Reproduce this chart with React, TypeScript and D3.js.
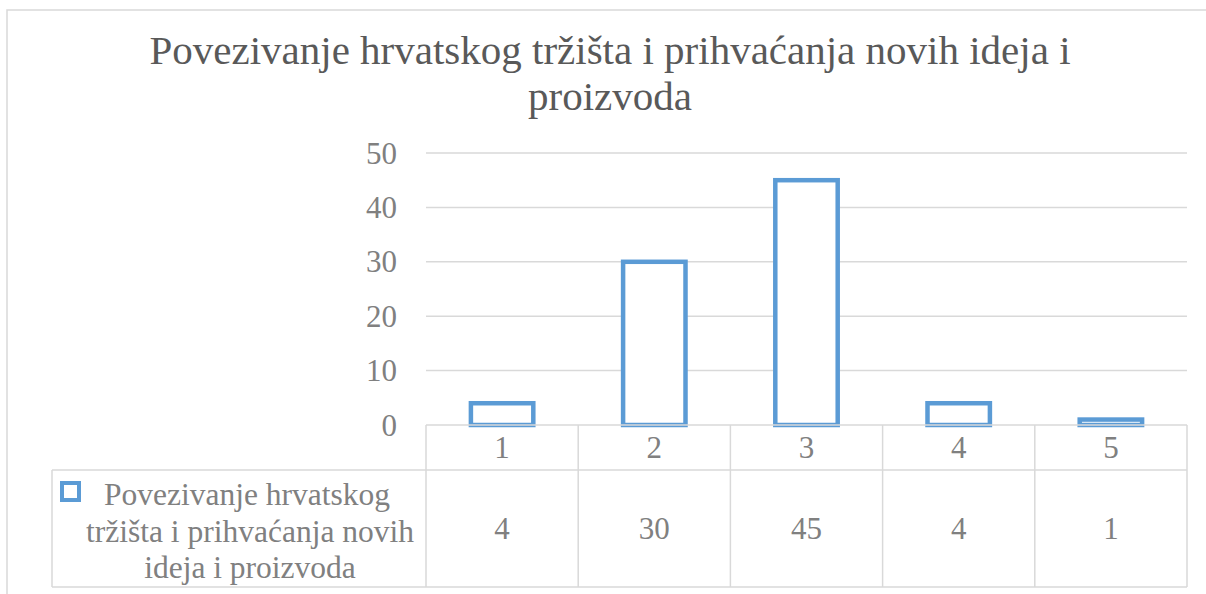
import React from "react";
import { scaleBand, scaleLinear } from "d3";

const categories = ["1", "2", "3", "4", "5"];
const values = [4, 30, 45, 4, 1];
const yTicks = [0, 10, 20, 30, 40, 50];
const titleLines = [
  "Povezivanje hrvatskog tržišta i prihvaćanja novih ideja i",
  "proizvoda",
];
const seriesLines = [
  "Povezivanje hrvatskog",
  "tržišta i prihvaćanja novih",
  "ideja i proizvoda",
];

const W = 1206;
const H = 594;
const FONT = "Liberation Serif";
const BLUE = "#5B9BD5";
const GRID = "#d9d9d9";
const TEXT = "#808080";

function App() {
  const left = 426;
  const right = 1187;
  const tableTop = 425;
  const rowSplit = 470;
  const tableBottom = 587;
  const tableLeft = 52;

  // columns of the data table, one per category
  const cols = scaleBand().domain(categories).range([left, right]);
  // bars inside each column (Excel gap width ~ 130%)
  const bars = scaleBand()
    .domain(categories)
    .range([left, right])
    .paddingInner(0.59)
    .paddingOuter(0.295);
  const y = scaleLinear().domain([0, 50]).range([425, 153]);

  const txt = { fontFamily: FONT };

  return (
    <svg
      width={W}
      height={H}
      style={{ position: "absolute", left: 0, top: 0, background: "#fff", fontFamily: FONT }}
    >
      <rect x={7} y={10} width={1220} height={620} fill="#fff" stroke={GRID} strokeWidth={1.5} />

      {/* title */}
      {titleLines.map((t, i) => (
        <text
          key={i}
          x={610}
          y={64 + i * 46}
          textAnchor="middle"
          fontSize={41}
          fill="#595959"
          style={txt}
        >
          {t}
        </text>
      ))}

      {/* gridlines */}
      {yTicks
        .filter((t) => t > 0)
        .map((t) => (
          <line key={t} x1={left} x2={right} y1={y(t)} y2={y(t)} stroke={GRID} strokeWidth={1.5} />
        ))}

      {/* y tick labels */}
      {yTicks.map((t) => (
        <text key={t} x={397} y={y(t)} dy="0.34em" textAnchor="end" fontSize={31} fill={TEXT} style={txt}>
          {t}
        </text>
      ))}

      {/* bars */}
      {values.map((v, i) => (
        <rect
          key={i}
          x={bars(categories[i])}
          y={y(v)}
          width={bars.bandwidth()}
          height={y(0) - y(v)}
          fill="#fff"
          stroke={BLUE}
          strokeWidth={4.5}
        />
      ))}

      {/* data table */}
      <g stroke={GRID} strokeWidth={1.5}>
        <line x1={left} x2={right} y1={tableTop} y2={tableTop} />
        <line x1={tableLeft} x2={right} y1={rowSplit} y2={rowSplit} />
        <line x1={tableLeft} x2={right} y1={tableBottom} y2={tableBottom} />
        <line x1={tableLeft} x2={tableLeft} y1={rowSplit} y2={tableBottom} />
        {categories.map((c) => (
          <line key={c} x1={cols(c)} x2={cols(c)} y1={tableTop} y2={tableBottom} />
        ))}
        <line x1={right} x2={right} y1={tableTop} y2={tableBottom} />
      </g>

      {categories.map((c, i) => (
        <g key={c}>
          <text
            x={(cols(c) as number) + cols.bandwidth() / 2}
            y={(tableTop + rowSplit) / 2}
            dy="0.34em"
            textAnchor="middle"
            fontSize={31}
            fill={TEXT}
            style={txt}
          >
            {c}
          </text>
          <text
            x={(cols(c) as number) + cols.bandwidth() / 2}
            y={(rowSplit + tableBottom) / 2}
            dy="0.34em"
            textAnchor="middle"
            fontSize={31}
            fill={TEXT}
            style={txt}
          >
            {values[i]}
          </text>
        </g>
      ))}

      {/* legend key + series name */}
      <rect x={62} y={483} width={17} height={17} fill="#fff" stroke={BLUE} strokeWidth={4} />
      {seriesLines.map((t, i) => (
        <text
          key={i}
          x={i === 0 ? 247 : 250}
          y={505 + i * 36.5}
          textAnchor="middle"
          fontSize={31.5}
          fill={TEXT}
          style={txt}
        >
          {t}
        </text>
      ))}
    </svg>
  );
}

export default App;
